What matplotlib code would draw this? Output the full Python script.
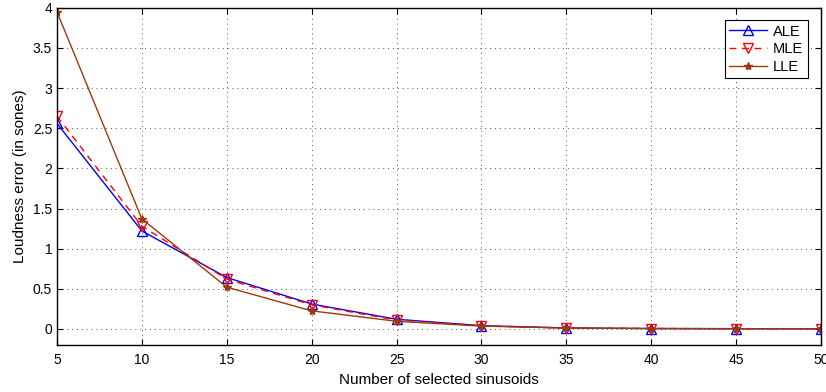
import numpy as np
import matplotlib
matplotlib.use("Agg")
import matplotlib.pyplot as plt

plt.rcParams['font.family'] = ['Liberation Sans', 'DejaVu Sans']

n_sin = [5, 10, 15, 20, 25, 30, 35, 40, 45, 50]
ale = [2.56, 1.22, 0.64, 0.31, 0.12, 0.04, 0.012, 0.005, 0.003, 0.002]
mle = [2.65, 1.28, 0.62, 0.30, 0.11, 0.04, 0.011, 0.005, 0.003, 0.002]
lle = [3.95, 1.37, 0.52, 0.225, 0.095, 0.035, 0.01, 0.004, 0.002, 0.001]

fig = plt.figure(figsize=(8.26, 3.92), dpi=100)
ax = fig.add_axes([0.069, 0.12, 0.925, 0.86])

ax.plot(n_sin, ale, color='#0000ff', lw=1.0, marker='^', ms=7, mfc='none',
        mec='#0000ff', label='ALE')
ax.plot(n_sin, mle, color='#ff0000', lw=1.0, ls=(0, (5, 4)), marker='v', ms=7,
        mfc='none', mec='#ff0000', label='MLE')
ax.plot(n_sin, lle, color='#9c3a0c', lw=1.0, marker='*', ms=6,
        label='LLE')

ax.set_xlim(5, 50)
ax.set_ylim(-0.2, 4)
ax.set_xticks(np.arange(5, 51, 5))
ax.set_yticks(np.arange(0, 4.01, 0.5))
ax.set_yticklabels(['0', '0.5', '1', '1.5', '2', '2.5', '3', '3.5', '4'])
ax.grid(True, color='#555555', ls=(0, (1, 4)), lw=0.7)
ax.tick_params(direction='in', top=True, right=True, labelsize=10, length=4)
ax.tick_params(axis='x', pad=6)
for s in ax.spines.values():
    s.set_linewidth(1.0)

ax.set_xlabel('Number of selected sinusoids', fontsize=11, labelpad=4)
ax.set_ylabel('Loudness error (in sones)', fontsize=11)

leg = ax.legend(loc='upper right', fontsize=10.5, fancybox=False, framealpha=1,
                edgecolor='black', handlelength=2.6, borderpad=0.3,
                labelspacing=0.25, handletextpad=0.4,
                bbox_to_anchor=(0.992, 0.985))
leg.get_frame().set_linewidth(0.8)

fig.savefig('out.png', dpi=100)
